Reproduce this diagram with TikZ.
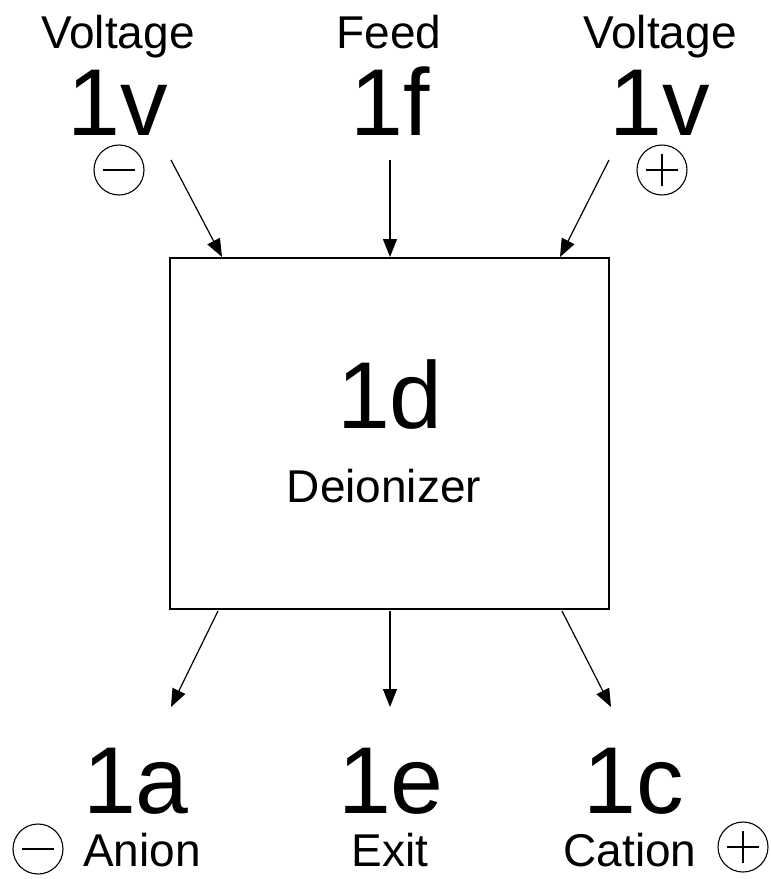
\documentclass[tikz,border=0pt]{standalone}
\usepackage{fontspec}
\setmainfont{Liberation Sans}
\usetikzlibrary{arrows.meta}
\begin{document}
\begin{tikzpicture}[x=1pt,y=-1pt,
  small/.style={inner sep=0pt,anchor=base,font=\fontsize{46}{50}\selectfont},
  big/.style={inner sep=0pt,anchor=base,font=\fontsize{95}{100}\selectfont},
  flow/.style={line width=1.2pt,-{Triangle[length=18pt,width=14pt]}},
  sign/.style={circle,draw,line width=1.1pt,minimum size=50pt,inner sep=0pt},
  signline/.style={line width=1.1pt}]
\useasboundingbox (0,0) rectangle (771,879);
\node[draw,line width=1.2pt,minimum width=439pt,minimum height=351pt,inner sep=0pt] (box) at (389.5,433.5) {};
% top labels
\node[small] (tvl) at (118,48) {Voltage};
\node[small] (tf) at (389,48) {Feed};
\node[small] (tvr) at (660,48) {Voltage};
\node[big] (vl) at (118,135) {1v};
\node[big] (ff) at (390,135) {1f};
\node[big] (vr) at (660,135) {1v};
% box text
\node[big] (dd) at (390,428) {1d};
\node[small] (dz) at (384,502) {Deionizer};
% bottom labels
\node[big] (aa) at (136,813) {1a};
\node[big] (ee) at (391,813) {1e};
\node[big] (cc) at (634,813) {1c};
\node[small] (an) at (142,866) {Anion};
\node[small] (ex) at (390,866) {Exit};
\node[small] (ca) at (630,866) {Cation};
% signs
\node[sign] (m1) at (119,170) {};
\draw[signline] ([xshift=-16pt]m1.center) -- ([xshift=16pt]m1.center);
\node[sign] (p1) at (662,170) {};
\draw[signline] ([xshift=-16pt]p1.center) -- ([xshift=16pt]p1.center);
\draw[signline] ([yshift=-16pt]p1.center) -- ([yshift=16pt]p1.center);
\node[sign] (m2) at (38,849) {};
\draw[signline] ([xshift=-16pt]m2.center) -- ([xshift=16pt]m2.center);
\node[sign] (p2) at (743,847) {};
\draw[signline] ([xshift=-16pt]p2.center) -- ([xshift=16pt]p2.center);
\draw[signline] ([yshift=-16pt]p2.center) -- ([yshift=16pt]p2.center);
% connector coordinates
\coordinate (s1) at (171,160); \coordinate (e1) at (222,257);
\coordinate (s2) at (390,160); \coordinate (e2) at (390,257);
\coordinate (s3) at (609,160); \coordinate (e3) at (560,257);
\coordinate (b1) at (218,611); \coordinate (f1) at (171,707);
\coordinate (b2) at (390,611); \coordinate (f2) at (390,707);
\coordinate (b3) at (562,611); \coordinate (f3) at (611,707);
\draw[flow] (s1) -- (e1);
\draw[flow] (s2) -- (e2);
\draw[flow] (s3) -- (e3);
\draw[flow] (b1) -- (f1);
\draw[flow] (b2) -- (f2);
\draw[flow] (b3) -- (f3);
\end{tikzpicture}
\end{document}
